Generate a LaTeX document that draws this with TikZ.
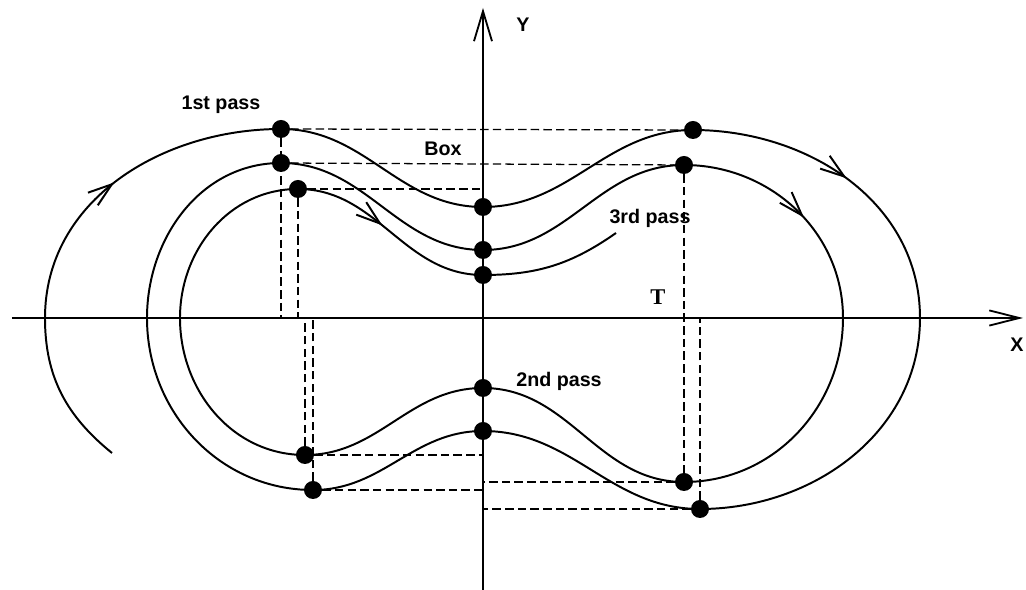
\documentclass[tikz,border=0pt]{standalone}
\usepackage{fontspec}
\setmainfont{Liberation Sans}
\newfontfamily\serifbf{Liberation Serif}
\usetikzlibrary{arrows.meta,decorations.markings}

\tikzset{
  curve/.style={line width=1.4pt},
  guide/.style={line width=0.9pt,dash pattern=on 6pt off 3pt},
  axis/.style={line width=1.3pt},
  dot/.style={circle,fill,inner sep=0pt,minimum size=0.45cm},
  lbl/.style={font=\fontsize{14}{16}\selectfont\bfseries},
  flow/.style={postaction={decorate,decoration={markings,
      mark=at position #1 with {\arrow{Straight Barb[length=6mm,width=4mm]}}}}},
}

\begin{document}
\begin{tikzpicture}[x=0.025cm,y=0.025cm]
  \useasboundingbox (-483,-272) rectangle (543,318);
  % axes
  \coordinate (o) at (0,0);
  \coordinate (xa) at (-471,0);
  \coordinate (xb) at (540,0);
  \coordinate (ya) at (0,-272);
  \coordinate (yb) at (0,310);
  \draw[axis,-{Straight Barb[length=7.5mm,width=3.8mm]}] (xa) -- (xb);
  \draw[axis,-{Straight Barb[length=7.5mm,width=4.5mm]}] (ya) -- (yb);
  \node[lbl] (ylab) at (40,293) {Y};
  \node[lbl] (xlab) at (534,-27) {X};

  % points where the path meets the box
  \foreach \name/\px/\py in {d1/-202/189, c1/0/111, r1/210/188, b1/217/-191,
      c2/0/-113, b2/-170/-172, d2/-202/155, c3/0/68, r2/201/153, b3/201/-164,
      c4/0/-70, b4/-178/-137, d3/-185/129, c5/0/43}{
    \node[dot] (\name) at (\px,\py) {};
  }
  \coordinate (s0) at (-371,-135);
  \coordinate (l1) at (-438,0);
  \coordinate (rx1) at (437,0);
  \coordinate (l2) at (-336,0);
  \coordinate (rx2) at (360,0);
  \coordinate (l3) at (-303,0);
  \coordinate (e) at (133,85);

  % the spiral
  \draw[curve] (s0) to[out=141,in=-90] (l1) to[out=90,in=180] (d1.center)
    to[out=0,in=180] (c1.center) to[out=0,in=180] (r1.center)
    to[out=0,in=90] (rx1) to[out=-90,in=0] (b1.center)
    to[out=180,in=0] (c2.center) to[out=180,in=0] (b2.center)
    to[out=180,in=-90] (l2) to[out=90,in=180] (d2.center)
    to[out=0,in=180] (c3.center) to[out=0,in=180] (r2.center)
    to[out=0,in=90] (rx2) to[out=-90,in=0] (b3.center)
    to[out=180,in=0] (c4.center) to[out=180,in=0] (b4.center)
    to[out=180,in=-90] (l3) to[out=90,in=180] (d3.center)
    to[out=0,in=180] (c5.center) to[out=0,in=-145] (e);
  \path[curve,flow=0.47] (l1) to[out=90,in=180] (d1.center);
  \path[curve,flow=0.45] (d3.center) to[out=0,in=180] (c5.center);
  \path[curve,flow=0.5] (r1.center) to[out=0,in=90] (rx1);
  \path[curve,flow=0.55] (r2.center) to[out=0,in=90] (rx2);

  % box lines
  \draw[guide] (d1) -- (r1);
  \draw[guide] (d2) -- (r2);
  \draw[guide] (d3) -- (d3 -| o);
  \draw[guide] (d1) -- (d1 |- o);
  \draw[guide] (d3) -- (d3 |- o);
  \draw[guide] (b4) -- (b4 |- o);
  \draw[guide] (b2) -- (b2 |- o);
  \draw[guide] (r2) -- (b3);
  \draw[guide] (b1) -- (b1 |- o);
  \draw[guide] (b4) -- (b4 -| o);
  \draw[guide] (b2) -- (b2 -| o);
  \draw[guide] (b3) -- (b3 -| o);
  \draw[guide] (b1) -- (b1 -| o);

  % labels
  \node[lbl] (first) at (-262,213) {1st pass};
  \node[lbl] (box) at (-40,169) {Box};
  \node[lbl] (third) at (167,100) {3rd pass};
  \node[lbl] (second) at (76,-63) {2nd pass};
  \node[font=\fontsize{16}{18}\selectfont\serifbf\bfseries] (tlab) at (175,21) {T};
\end{tikzpicture}
\end{document}
